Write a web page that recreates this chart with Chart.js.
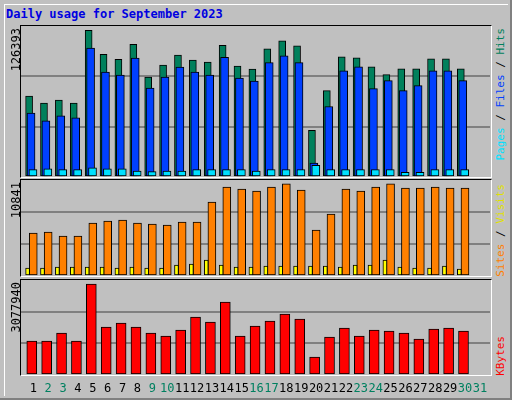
<!DOCTYPE html>
<html>
<head>
<meta charset="utf-8">
<script src="https://cdn.jsdelivr.net/npm/chart.js@4"></script>
<style>
  body { margin: 0; background: #fff; }
  #frame { position: absolute; left: 0; top: 0; width: 510px; height: 398px; background: #C0C0C0;
           border-right: 2px solid #808080; border-bottom: 2px solid #808080; }
  #inner { position: absolute; left: 4px; top: 4px; width: 503px; height: 391px; border-left: 1px solid #fff; border-top: 1px solid #fff; }
  .panel { position: absolute; left: 20px; width: 470px; border-left: 1px solid #000; border-top: 1px solid #000;
           border-right: 1px solid #fff; border-bottom: 1px solid #fff; }
  .panel canvas { position: absolute; left: 0; top: 0; }
  .vt { position: absolute; writing-mode: vertical-rl; transform: rotate(180deg); font: 11px "DejaVu Sans Mono", monospace; white-space: nowrap; }
  #title { position: absolute; left: 6px; top: 7px; font: bold 12px "DejaVu Sans Mono", monospace; color: #0000E0; }
</style>
</head>
<body>
<div id="frame"><div id="inner"></div></div>
<div id="title">Daily usage for September 2023</div>

<div class="panel" style="top:25px;height:151px"><canvas id="hitsChart"></canvas></div>
<div class="panel" style="top:179px;height:96px"><canvas id="sitesChart"></canvas></div>
<div class="panel" style="top:279px;height:95px"><canvas id="kbChart"></canvas></div>
<canvas id="dayLabels" style="position:absolute;left:21px;top:378px"></canvas>

<div class="vt" style="left:9px;top:28px;color:#000;font-size:12px">126393</div>
<div class="vt" style="left:9px;top:182px;color:#000;font-size:12px">10841</div>
<div class="vt" style="left:9px;top:282px;color:#000;font-size:12px">3077940</div>

<div class="vt" style="left:494px;top:28px"><span style="color:#00E0FF">Pages</span> / <span style="color:#0040FF">Files</span> / <span style="color:#00805C">Hits</span></div>
<div class="vt" style="left:494px;top:184px"><span style="color:#FF8000">Sites</span> / <span style="color:#E0E000">Visits</span></div>
<div class="vt" style="left:494px;top:336px;color:#FF0000">KBytes</div>

<script>
days = Array.from({ length: 31 }, (v, i) => i + 1);
weekendDays = [2, 3, 9, 10, 16, 17, 23, 24, 30, 31];

hits = [69700, 63700, 66300, 63700, 126300, 105700, 101400, 114300, 86000, 96300, 104900, 100600, 98900, 113400, 95400,
        92900, 110300, 117200, 112900, 40200, 74400, 103500, 102600, 94900, 88100, 93200, 93200, 101800, 101800, 93200, 0];
files = [55100, 48300, 52600, 50900, 110900, 90300, 87700, 102300, 76600, 86000, 94600, 90300, 87700, 103100, 85100,
         82600, 98400, 104300, 98400, 12000, 60700, 91500, 94900, 76100, 83000, 74400, 78700, 91500, 91500, 83000, 0];
pages = [6300, 7100, 6300, 6300, 8000, 7100, 7100, 5200, 4600, 5200, 5200, 6300, 6300, 6300, 6300,
         5200, 6300, 6300, 6300, 10000, 6300, 6300, 6300, 6300, 6300, 4000, 4000, 6300, 6300, 6300, 0];
sites = [5060, 5180, 4710, 4710, 6240, 6470, 6590, 6240, 6120, 6000, 6360, 6360, 8710, 10480, 10240,
         10000, 10480, 10840, 10120, 5410, 7300, 10240, 10000, 10480, 10840, 10360, 10360, 10480, 10360, 10360, 0];
visits = [940, 940, 1060, 1060, 1060, 1060, 940, 1060, 940, 940, 1300, 1410, 1880, 1300, 1060,
          1060, 1180, 1180, 1180, 1180, 1180, 1060, 1300, 1300, 1880, 1060, 940, 940, 1180, 820, 0];
kbytes = [1150000, 1150000, 1420000, 1150000, 3078000, 1623000, 1758000, 1623000, 1420000, 1319000, 1522000, 1962000, 1792000, 2469000, 1319000,
          1657000, 1826000, 2063000, 1894000, 608000, 1285000, 1590000, 1319000, 1522000, 1488000, 1420000, 1218000, 1556000, 1590000, 1488000, 0];

const X_MIN = 0.176, X_MAX = 31.68;

function points(values, shift) {
    return values.map((v, i) => ({ x: days[i] + shift, y: v }));
}

function bars(values, shift, color, width, order) {
    return {
        data: points(values, shift),
        backgroundColor: color,
        borderColor: "#000",
        borderWidth: 1,
        borderSkipped: false,
        barThickness: width,
        grouped: false,
        order: order
    };
}

function makeChart(id, w, h, datasets, max) {
    const cv = document.getElementById(id);
    cv.width = w; cv.height = h;
    return new Chart(cv, {
        type: "bar",
        data: { datasets: datasets },
        options: {
            responsive: false,
            animation: false,
            events: [],
            layout: { padding: 0 },
            plugins: { legend: { display: false }, tooltip: { enabled: false } },
            scales: {
                x: { type: "linear", min: X_MIN, max: X_MAX, offset: false, display: false },
                y: {
                    min: 0, max: max,
                    afterBuildTicks: s => { s.ticks = [0, max / 3, 2 * max / 3, max].map(v => ({ value: v })); },
                    ticks: { display: false },
                    border: { display: false },
                    grid: { color: (c) => (c.tick.value > 0 && c.tick.value < max) ? "#808080" : "rgba(0,0,0,0)", lineWidth: 2, drawTicks: false }
                }
            }
        }
    });
}

makeChart("hitsChart", 469, 151, [
    bars(pages, -0.02, "#00E0FF", 8, 0),
    bars(files, -0.15, "#0040FF", 8, 1),
    bars(hits, -0.28, "#00805C", 7, 2)
], 130000);

makeChart("sitesChart", 469, 96, [
    bars(visits, -0.38, "#FFFF00", 4, 0),
    bars(sites, 0, "#FF8000", 8, 1)
], 11300);

const kbChart = makeChart("kbChart", 469, 95, [
    bars(kbytes, -0.1, "#FF0000", 10, 0)
], 3213000);

// day numbers under the bottom panel, placed with the KB chart's x scale
const lc = document.getElementById("dayLabels");
lc.width = 469; lc.height = 20;
const ctx = lc.getContext("2d");
ctx.font = '12px "DejaVu Sans Mono", monospace';
ctx.textAlign = "center";
ctx.textBaseline = "middle";
for (const d of days) {
    ctx.fillStyle = weekendDays.includes(d) ? "#008060" : "#000";
    ctx.fillText(String(d), kbChart.scales.x.getPixelForValue(d), 11);
}
</script>
</body>
</html>
